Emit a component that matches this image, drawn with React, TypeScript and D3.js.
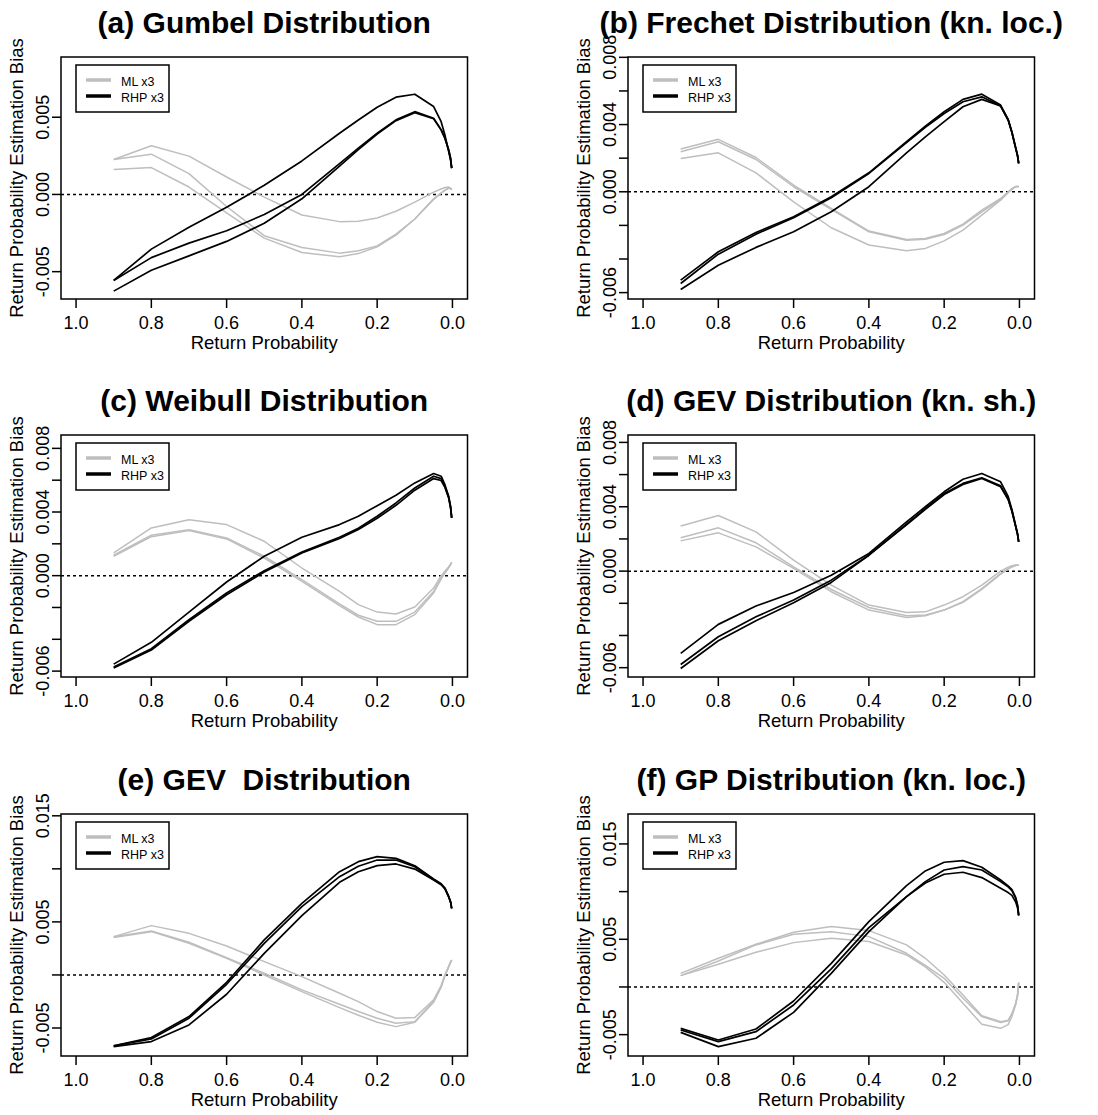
import React from "react";
import * as d3 from "d3";

// Return probabilities at which the estimators were evaluated
const returnProb = [0.9, 0.8, 0.7, 0.6, 0.5, 0.4, 0.3, 0.25, 0.2, 0.15, 0.1, 0.05, 0.03, 0.02, 0.01, 0.005, 0.002];

// (a) Gumbel
const gumbelML = [
  [0.00226, 0.00315, 0.00248, 0.00113, -0.00017, -0.00133, -0.00176, -0.00174, -0.00152, -0.00109, -0.0005, 0.00015, 0.00035, 0.00045, 0.00048, 0.0004, 0.0003],
  [0.00226, 0.00261, 0.00135, -0.00078, -0.00267, -0.00343, -0.0038, -0.00365, -0.00333, -0.00257, -0.00159, -0.00028, 0.0001, 0.00028, 0.00042, 0.0004, 0.0003],
  [0.00161, 0.00174, 0.00048, -0.0012, -0.00283, -0.00376, -0.00404, -0.00383, -0.00339, -0.00263, -0.00159, -0.00032, 0.00008, 0.00026, 0.0004, 0.00038, 0.0003],
];
const gumbelRHP = [
  [-0.00557, -0.00354, -0.00213, -0.00083, 0.00059, 0.00217, 0.00396, 0.00482, 0.00565, 0.0063, 0.00649, 0.00569, 0.00471, 0.00385, 0.00277, 0.00223, 0.0017],
  [-0.00557, -0.00409, -0.00315, -0.00235, -0.0013, 0.0, 0.002, 0.003, 0.00396, 0.00483, 0.00536, 0.00493, 0.00418, 0.00364, 0.00288, 0.00234, 0.0017],
  [-0.00626, -0.00491, -0.00398, -0.00304, -0.00187, -0.00028, 0.00183, 0.0029, 0.00391, 0.00478, 0.0053, 0.0049, 0.00418, 0.00364, 0.00288, 0.00234, 0.0017],
];

// (b) Frechet, known location
const frechetML = [
  [0.00254, 0.00312, 0.00204, 0.0004, -0.00099, -0.00234, -0.00284, -0.00278, -0.00248, -0.00192, -0.00109, -0.0004, 0.0, 0.00018, 0.00032, 0.00032, 0.0003],
  [0.00238, 0.00298, 0.00192, 0.0003, -0.00105, -0.00238, -0.00288, -0.00282, -0.00254, -0.00198, -0.00119, -0.00045, -0.00002, 0.00016, 0.0003, 0.00032, 0.0003],
  [0.00198, 0.00232, 0.00113, -0.0006, -0.00214, -0.00317, -0.00351, -0.00337, -0.00292, -0.00228, -0.00139, -0.0005, -0.00005, 0.00014, 0.0003, 0.00032, 0.0003],
];
const frechetRHP = [
  [-0.00526, -0.00357, -0.00242, -0.00149, -0.0003, 0.00113, 0.00298, 0.0039, 0.00476, 0.0055, 0.00581, 0.00516, 0.00431, 0.00356, 0.00262, 0.00215, 0.00169],
  [-0.00546, -0.00371, -0.00252, -0.00155, -0.00036, 0.00109, 0.00292, 0.00384, 0.00466, 0.00536, 0.00565, 0.0051, 0.00427, 0.00353, 0.0026, 0.00214, 0.00169],
  [-0.00581, -0.00437, -0.00331, -0.00238, -0.00119, 0.0003, 0.00232, 0.00327, 0.00417, 0.00506, 0.0055, 0.0051, 0.00427, 0.00353, 0.0026, 0.00214, 0.00169],
];

// (c) Weibull
const weibullML = [
  [0.00143, 0.003, 0.00352, 0.00321, 0.00216, 0.00048, -0.00099, -0.00182, -0.00229, -0.00241, -0.00197, -0.00078, 0.0, 0.00027, 0.00055, 0.00072, 0.00084],
  [0.00128, 0.00254, 0.00289, 0.00237, 0.00122, -0.00025, -0.00178, -0.00249, -0.00287, -0.00287, -0.00229, -0.00099, -0.00015, 0.0002, 0.00052, 0.0007, 0.00084],
  [0.00122, 0.00245, 0.00283, 0.00231, 0.00111, -0.00036, -0.00189, -0.0026, -0.00308, -0.00308, -0.00245, -0.00109, -0.0002, 0.00017, 0.0005, 0.0007, 0.00084],
];
const weibullRHP = [
  [-0.00556, -0.00419, -0.00229, -0.0004, 0.00122, 0.00241, 0.00321, 0.00373, 0.0044, 0.00505, 0.00583, 0.00642, 0.00625, 0.00572, 0.00499, 0.00436, 0.00363],
  [-0.00574, -0.00459, -0.00277, -0.00109, 0.00031, 0.00149, 0.00241, 0.00298, 0.00373, 0.00457, 0.00551, 0.00625, 0.0061, 0.00562, 0.00492, 0.0043, 0.00363],
  [-0.0058, -0.00467, -0.00287, -0.0012, 0.00023, 0.00143, 0.00233, 0.0029, 0.00361, 0.00442, 0.00537, 0.0061, 0.00598, 0.00555, 0.00488, 0.00428, 0.00363],
];

// (d) GEV, known shape
const gevShML = [
  [0.0028, 0.00346, 0.00244, 0.00068, -0.00087, -0.00211, -0.00257, -0.00253, -0.00211, -0.00159, -0.00087, 0.0, 0.00025, 0.00033, 0.00038, 0.00037, 0.00037],
  [0.00207, 0.00269, 0.00176, 0.00027, -0.00114, -0.00226, -0.00277, -0.00273, -0.00242, -0.0019, -0.00108, -0.00015, 0.00015, 0.00028, 0.00036, 0.00037, 0.00037],
  [0.00188, 0.00238, 0.00151, 0.00017, -0.00128, -0.00242, -0.00288, -0.00278, -0.00242, -0.00194, -0.00114, -0.00019, 0.00012, 0.00026, 0.00035, 0.00037, 0.00037],
];
const gevShRHP = [
  [-0.00511, -0.00331, -0.00217, -0.00133, -0.00025, 0.0011, 0.00306, 0.004, 0.00493, 0.00571, 0.00607, 0.00555, 0.00464, 0.00383, 0.00282, 0.00231, 0.00182],
  [-0.0058, -0.00408, -0.00284, -0.0018, -0.00056, 0.00099, 0.00292, 0.00388, 0.00482, 0.00545, 0.0058, 0.0053, 0.00448, 0.00374, 0.00278, 0.00229, 0.00182],
  [-0.00605, -0.00433, -0.00308, -0.00197, -0.0007, 0.00099, 0.00288, 0.00384, 0.00476, 0.00538, 0.00576, 0.00524, 0.00445, 0.00372, 0.00277, 0.00229, 0.00182],
];

// (e) GEV
const gevML = [
  [0.00361, 0.00465, 0.00392, 0.00273, 0.00126, -0.00016, -0.00173, -0.00251, -0.00345, -0.00408, -0.00402, -0.00235, -0.001, 0.0, 0.0008, 0.0012, 0.00141],
  [0.00361, 0.00414, 0.00308, 0.00163, 0.00016, -0.00141, -0.00276, -0.00345, -0.00408, -0.00455, -0.0044, -0.00251, -0.0011, -0.00005, 0.00078, 0.0012, 0.00141],
  [0.00352, 0.00408, 0.00298, 0.00157, 0.0, -0.00157, -0.00308, -0.0038, -0.00446, -0.00487, -0.00446, -0.00257, -0.00115, -0.00008, 0.00076, 0.00118, 0.00141],
];
const gevRHP = [
  [-0.00669, -0.0059, -0.00392, -0.00069, 0.0033, 0.00675, 0.00973, 0.01068, 0.01115, 0.01099, 0.0103, 0.00905, 0.0086, 0.0082, 0.0074, 0.0069, 0.00628],
  [-0.00669, -0.00603, -0.00408, -0.00088, 0.00298, 0.00644, 0.00926, 0.01025, 0.01083, 0.01083, 0.0102, 0.009, 0.00855, 0.00815, 0.00738, 0.00688, 0.00628],
  [-0.00675, -0.00628, -0.00471, -0.00182, 0.00204, 0.00559, 0.00873, 0.00973, 0.0103, 0.01046, 0.00998, 0.00895, 0.0085, 0.00812, 0.00735, 0.00686, 0.00628],
];

// (f) GP, known location
const gpML = [
  [0.00143, 0.00301, 0.00448, 0.00573, 0.00633, 0.00591, 0.00441, 0.00301, 0.00126, -0.00084, -0.00301, -0.00364, -0.0035, -0.0028, -0.0017, -0.0008, 0.00045],
  [0.00119, 0.00273, 0.00441, 0.00552, 0.0058, 0.00528, 0.00353, 0.00227, 0.00091, -0.00119, -0.00311, -0.00374, -0.00355, -0.00285, -0.00175, -0.00085, 0.00045],
  [0.00119, 0.00238, 0.00364, 0.00465, 0.0051, 0.00476, 0.00336, 0.0021, 0.00049, -0.00171, -0.00392, -0.00434, -0.00395, -0.0031, -0.00185, -0.0009, 0.00045],
];
const gpRHP = [
  [-0.00434, -0.00556, -0.00441, -0.00147, 0.00248, 0.00685, 0.01063, 0.01217, 0.01308, 0.01325, 0.01255, 0.01122, 0.0106, 0.0102, 0.0094, 0.0086, 0.0075],
  [-0.00451, -0.00573, -0.00469, -0.00189, 0.00189, 0.00622, 0.00948, 0.01105, 0.01227, 0.01262, 0.01227, 0.01105, 0.0105, 0.0101, 0.0093, 0.0085, 0.0075],
  [-0.00476, -0.00626, -0.00538, -0.00266, 0.00143, 0.0058, 0.00948, 0.0109, 0.01182, 0.01203, 0.01147, 0.01035, 0.0099, 0.0096, 0.0089, 0.0083, 0.0075],
];

// Axis ticks
const xTicks = [1.0, 0.8, 0.6, 0.4, 0.2, 0.0];
const ticksSmall = [-0.006, -0.004, -0.002, 0.0, 0.002, 0.004, 0.006, 0.008];
const labelsSmall = [-0.006, 0.0, 0.004, 0.008];
const ticksGumbel = [-0.005, 0.0, 0.005];
const ticksLarge = [-0.005, 0.0, 0.005, 0.01, 0.015];
const labelsLarge = [-0.005, 0.005, 0.015];

const titles = [
  "(a) Gumbel Distribution",
  "(b) Frechet Distribution (kn. loc.)",
  "(c) Weibull Distribution",
  "(d) GEV Distribution (kn. sh.)",
  "(e) GEV  Distribution",
  "(f) GP Distribution (kn. loc.)",
];

const legendLabels = ["ML x3", "RHP x3"];

const panels = [
  { ml: gumbelML, rhp: gumbelRHP, yDomain: [-0.00677, 0.0089], yTicks: ticksGumbel, yLabels: ticksGumbel },
  { ml: frechetML, rhp: frechetRHP, yDomain: [-0.00638, 0.00802], yTicks: ticksSmall, yLabels: labelsSmall },
  { ml: weibullML, rhp: weibullRHP, yDomain: [-0.00637, 0.00884], yTicks: ticksSmall, yLabels: labelsSmall },
  { ml: gevShML, rhp: gevShRHP, yDomain: [-0.00658, 0.00846], yTicks: ticksSmall, yLabels: labelsSmall },
  { ml: gevML, rhp: gevRHP, yDomain: [-0.00764, 0.01517], yTicks: ticksLarge, yLabels: labelsLarge },
  { ml: gpML, rhp: gpRHP, yDomain: [-0.00724, 0.01814], yTicks: ticksLarge, yLabels: labelsLarge },
];

const W = 1098;
const H = 1115;
const colLeft = [61, 628];
const rowTop = [57, 435, 814];
const boxW = 406.5;
const boxH = 242;
const FONT = "'Liberation Sans', Arial, Helvetica, sans-serif";
const GRAY = "#bebebe";

function Panel({ idx }: { idx: number }) {
  const p = panels[idx];
  const left = colLeft[idx % 2];
  const top = rowTop[Math.floor(idx / 2)];
  const right = left + boxW;
  const bottom = top + boxH;

  const x = d3.scaleLinear().domain([1.04, -0.04]).range([left, right]);
  const y = d3.scaleLinear().domain(p.yDomain).range([bottom, top]);
  const line = d3
    .line<number>()
    .x((_, i) => x(returnProb[i]))
    .y((v) => y(v));
  const fmt = (v: number) => (Math.abs(v) < 1e-12 ? 0 : v).toFixed(3);

  const cx = (left + right) / 2;
  const cy = (top + bottom) / 2;

  return (
    <g>
      <text
        x={cx}
        y={top - 24}
        textAnchor="middle"
        fontFamily={FONT}
        fontWeight="bold"
        fontSize={30}
        style={{ whiteSpace: "pre" }}
      >
        {titles[idx]}
      </text>

      {/* zero reference */}
      <line x1={left} x2={right} y1={y(0)} y2={y(0)} stroke="#000" strokeWidth={1.5} strokeDasharray="3,3" />

      {p.ml.map((s, i) => (
        <path key={"ml" + i} d={line(s) || ""} fill="none" stroke={GRAY} strokeWidth={1.5} strokeLinejoin="round" />
      ))}
      {p.rhp.map((s, i) => (
        <path key={"rhp" + i} d={line(s) || ""} fill="none" stroke="#000" strokeWidth={1.7} strokeLinejoin="round" />
      ))}

      <rect x={left} y={top} width={boxW} height={boxH} fill="none" stroke="#000" strokeWidth={1.5} />

      {/* x axis */}
      {xTicks.map((t) => (
        <g key={"xt" + t}>
          <line x1={x(t)} x2={x(t)} y1={bottom} y2={bottom + 9} stroke="#000" strokeWidth={1.5} />
          <text x={x(t)} y={bottom + 30} textAnchor="middle" fontFamily={FONT} fontSize={18}>
            {t.toFixed(1)}
          </text>
        </g>
      ))}
      <text x={cx} y={bottom + 49.5} textAnchor="middle" fontFamily={FONT} fontSize={18.5}>
        Return Probability
      </text>

      {/* y axis */}
      {p.yTicks.map((t) => (
        <line key={"yt" + t} x1={left - 9} x2={left} y1={y(t)} y2={y(t)} stroke="#000" strokeWidth={1.5} />
      ))}
      {p.yLabels.map((t) => (
        <text
          key={"yl" + t}
          transform={`translate(${left - 12.5},${y(t)}) rotate(-90)`}
          textAnchor="middle"
          fontFamily={FONT}
          fontSize={18}
        >
          {fmt(t)}
        </text>
      ))}
      <text
        transform={`translate(${left - 38.5},${cy}) rotate(-90)`}
        textAnchor="middle"
        fontFamily={FONT}
        fontSize={18.5}
      >
        Return Probability Estimation Bias
      </text>

      {/* legend */}
      <g transform={`translate(${left + 15},${top + 8})`}>
        <rect x={0} y={0} width={93} height={47} fill="#fff" stroke="#000" strokeWidth={1.5} />
        <line x1={10} x2={35} y1={15} y2={15} stroke={GRAY} strokeWidth={3.5} />
        <line x1={10} x2={35} y1={31} y2={31} stroke="#000" strokeWidth={3.5} />
        <text x={45} y={21} fontFamily={FONT} fontSize={12.5}>
          {legendLabels[0]}
        </text>
        <text x={45} y={36.7} fontFamily={FONT} fontSize={12.5}>
          {legendLabels[1]}
        </text>
      </g>
    </g>
  );
}

export default function App() {
  return (
    <svg
      width={W}
      height={H}
      viewBox={`0 0 ${W} ${H}`}
      style={{ position: "absolute", left: 0, top: 0, display: "block", background: "#fff" }}
    >
      <rect x={0} y={0} width={W} height={H} fill="#fff" />
      {panels.map((_, i) => (
        <Panel key={i} idx={i} />
      ))}
    </svg>
  );
}
